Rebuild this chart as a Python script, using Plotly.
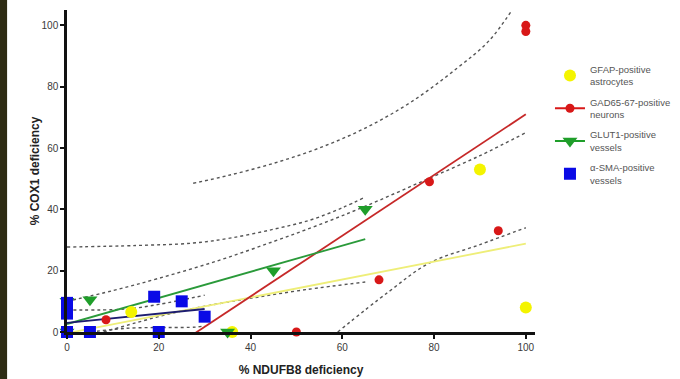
import plotly.graph_objects as go

# ---------------- data ----------------
gfap_x = [0, 14, 36, 90, 100]
gfap_y = [0, 6.5, 0, 53, 8]

gad_x = [8.5, 50, 68, 79, 94, 100, 100]
gad_y = [4, 0, 17, 49, 33, 100, 98]

glut_x = [0, 0, 5, 35, 45, 65]
glut_y = [10, 0, 10.5, 0, 20, 40]

sma_x = [0, 0, 0, 5, 20, 19, 25, 30]
sma_y = [0, 6, 9.5, 0, 0, 11.5, 10, 5]

# regression lines
gfap_fit_x = [0, 100]
gfap_fit_y = [-0.4, 28.8]
gad_fit_x = [8.5, 100]
gad_fit_y = [-19.6, 71]
glut_fit_x = [0, 65]
glut_fit_y = [2.6, 30.3]
sma_fit_x = [0, 30]
sma_fit_y = [3, 7.5]

# confidence bands (dotted)
gad_up_x = [27.5, 35, 45, 55, 65, 75, 85, 92, 97]
gad_up_y = [48.5, 51, 55, 60, 66.5, 75, 86, 95, 105]
gad_lo_x = [59, 70, 79, 90, 100]
gad_lo_y = [0, 13, 22.5, 28.5, 34]
gfap_up_x = [0, 10, 20, 33, 45, 55, 65, 78, 90, 100]
gfap_up_y = [10, 13.5, 17.5, 23.3, 29.5, 35, 41, 49.5, 57.5, 65]
glut_up_x = [0, 15, 27.5, 35.5, 45, 53, 60, 65]
glut_up_y = [27.7, 28.2, 29, 30.6, 33.5, 36.5, 40.5, 44]
glut_lo_x = [8, 15, 22, 29, 40, 52, 65]
glut_lo_y = [0, 3, 5.8, 8.1, 11, 13.8, 16.3]
sma_up_x = [0, 13, 20, 30]
sma_up_y = [7.2, 7.5, 9, 12]
sma_lo_x = [0, 13, 28, 30]
sma_lo_y = [-1, 1.2, 1.6, 2]

legend_names = ["GFAP-positive<br>astrocytes", "GAD65-67-positive<br>neurons",
                "GLUT1-positive<br>vessels", "α-SMA-positive<br>vessels"]

x_ticks = [0, 20, 40, 60, 80, 100]
y_ticks = [0, 20, 40, 60, 80, 100]

# ---------------- styles ----------------
YEL = "#f4f400"
RED = "#d81818"
GRN = "#1f9e2a"
BLU = "#0a0ae6"
FONT = "Liberation Sans, Arial, sans-serif"

fig = go.Figure()

band_style = dict(color="#555555", width=1.4, dash="dot")
for bx, by in [(gad_up_x, gad_up_y), (gad_lo_x, gad_lo_y), (gfap_up_x, gfap_up_y),
               (glut_up_x, glut_up_y), (glut_lo_x, glut_lo_y),
               (sma_up_x, sma_up_y), (sma_lo_x, sma_lo_y)]:
    fig.add_trace(go.Scatter(x=bx, y=by, mode="lines", line=band_style,
                             line_shape="spline", showlegend=False, hoverinfo="skip"))

for fx, fy, col in [(gfap_fit_x, gfap_fit_y, "#eeee78"), (gad_fit_x, gad_fit_y, "#c62828"),
                    (glut_fit_x, glut_fit_y, "#2a9a3a"), (sma_fit_x, sma_fit_y, "#1c1c70")]:
    fig.add_trace(go.Scatter(x=fx, y=fy, mode="lines", line=dict(color=col, width=1.8),
                             showlegend=False, hoverinfo="skip"))

series = [
    (gfap_x, gfap_y, YEL, "circle", 12, legend_names[0], "markers"),
    (gad_x, gad_y, RED, "circle", 9, legend_names[1], "lines+markers"),
    (glut_x, glut_y, GRN, "triangle-down", 13, legend_names[2], "lines+markers"),
    (sma_x, sma_y, BLU, "square", 12, legend_names[3], "markers"),
]
for i, (sx, sy, col, sym, sz, name, lmode) in enumerate(series):
    fig.add_trace(go.Scatter(x=sx, y=sy, mode="markers", cliponaxis=False,
                             marker=dict(color=col, symbol=sym, size=sz, line=dict(width=0)),
                             showlegend=False))
    # legend entry
    fig.add_trace(go.Scatter(x=[None], y=[None], mode=lmode, name=name,
                             legendgroup=str(i),
                             line=dict(color=col, width=2),
                             marker=dict(color=col, symbol=sym, size=sz, line=dict(width=0))))

axis_common = dict(
    showgrid=False, zeroline=False, showline=True, linecolor="#111111", linewidth=2.5,
    ticks="outside", ticklen=4, tickwidth=2, tickcolor="#111111", automargin=False,
    tickfont=dict(family=FONT, size=10, color="#3a3a3a"),
)

fig.update_xaxes(range=[0, 102], tickvals=x_ticks,
                 title=dict(text="<b>% NDUFB8 deficiency</b>", font=dict(family=FONT, size=12, color="#222222"), standoff=14),
                 **axis_common)
fig.update_yaxes(range=[0, 105], tickvals=y_ticks,
                 title=dict(text="<b>% COX1 deficiency</b>", font=dict(family=FONT, size=12, color="#222222"), standoff=0),
                 **axis_common)

fig.update_layout(
    width=680, height=379,
    margin=dict(l=67, r=145, t=10, b=47, autoexpand=False),
    paper_bgcolor="white", plot_bgcolor="white",
    font=dict(family=FONT),
    legend=dict(x=1.032, y=0.855, xanchor="left", yanchor="top",
                font=dict(family=FONT, size=9.5, color="#555555"),
                tracegroupgap=5, itemwidth=30, bgcolor="rgba(0,0,0,0)"),
    shapes=[dict(type="rect", xref="paper", yref="paper", x0=-0.1432, x1=-0.128,
                 y0=-0.2, y1=1.05, fillcolor="#2e2c14", line=dict(width=0), layer="below")],
)

fig.write_html("out.html", config={"displayModeBar": False},
               post_script="document.body.style.margin='0';document.body.style.overflow='hidden';")
